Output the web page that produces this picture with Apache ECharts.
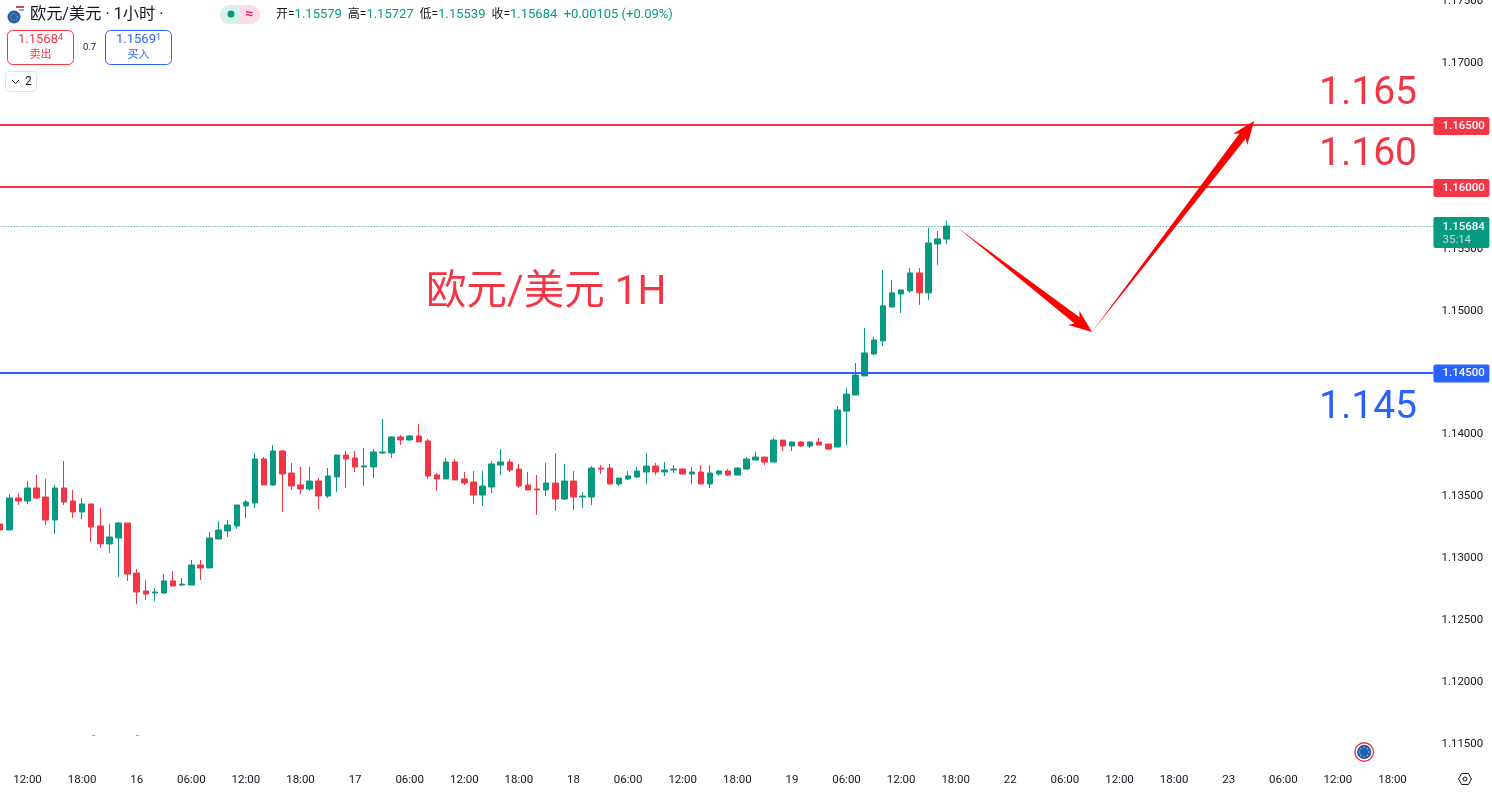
<!DOCTYPE html>
<html><head><meta charset="utf-8">
<style>html,body{margin:0;padding:0;background:#fff}#c{width:1492px;height:793px}</style>
<script src="https://cdn.jsdelivr.net/npm/echarts@6/dist/echarts.min.js"></script>
</head><body><div id="c"></div>
<script>
const tickLabels = ['12:00','18:00','16','06:00','12:00','18:00','17','06:00','12:00','18:00','18','06:00','12:00','18:00','19','06:00','12:00','18:00','22','06:00','12:00','18:00','23','06:00','12:00','18:00'];
const opens = [1.13277,1.13229,1.13487,1.13463,1.13568,1.13495,1.13309,1.13568,1.13463,1.13374,1.13439,1.13261,1.13116,1.13164,1.13285,1.12881,1.12736,1.12720,1.12720,1.12817,1.12784,1.12784,1.12946,1.12922,1.13156,1.13221,1.13261,1.13423,1.13447,1.13802,1.13592,1.13867,1.13689,1.13592,1.13560,1.13624,1.13503,1.13657,1.13834,1.13810,1.13738,1.13738,1.13851,1.13851,1.13980,1.13956,1.13988,1.13948,1.13673,1.13641,1.13778,1.13641,1.13616,1.13511,1.13576,1.13753,1.13778,1.13721,1.13592,1.13560,1.13552,1.13608,1.13479,1.13624,1.13495,1.13495,1.13729,1.13729,1.13600,1.13640,1.13657,1.13697,1.13745,1.13697,1.13713,1.13721,1.13681,1.13697,1.13600,1.13681,1.13705,1.13672,1.13721,1.13794,1.13818,1.13777,1.13955,1.13907,1.13939,1.13907,1.13939,1.13923,1.13899,1.14189,1.14319,1.14473,1.14651,1.14756,1.15030,1.15135,1.15160,1.15305,1.15144,1.15539,1.15579];
const closes = [1.13229,1.13487,1.13463,1.13568,1.13487,1.13309,1.13568,1.13455,1.13374,1.13439,1.13253,1.13116,1.13172,1.13285,1.12873,1.12728,1.12712,1.12728,1.12817,1.12776,1.12792,1.12946,1.12922,1.13164,1.13229,1.13269,1.13431,1.13455,1.13802,1.13592,1.13867,1.13681,1.13584,1.13560,1.13624,1.13503,1.13665,1.13834,1.13802,1.13738,1.13746,1.13859,1.13859,1.13980,1.13956,1.13988,1.13940,1.13665,1.13641,1.13778,1.13633,1.13608,1.13511,1.13584,1.13762,1.13778,1.13713,1.13584,1.13552,1.13552,1.13608,1.13479,1.13624,1.13495,1.13503,1.13729,1.13721,1.13600,1.13648,1.13665,1.13705,1.13745,1.13697,1.13713,1.13721,1.13681,1.13697,1.13600,1.13689,1.13705,1.13672,1.13729,1.13802,1.13818,1.13777,1.13955,1.13907,1.13939,1.13907,1.13939,1.13915,1.13882,1.14198,1.14327,1.14480,1.14659,1.14764,1.15039,1.15144,1.15168,1.15305,1.15144,1.15547,1.15580,1.15684];
const lows = [1.13148,1.13229,1.13431,1.13439,1.13479,1.13269,1.13196,1.13431,1.13326,1.13317,1.13132,1.13083,1.13043,1.12849,1.12817,1.12631,1.12663,1.12655,1.12712,1.12776,1.12776,1.12784,1.12825,1.12922,1.13156,1.13172,1.13237,1.13326,1.13406,1.13592,1.13584,1.13374,1.13552,1.13519,1.13544,1.13398,1.13487,1.13536,1.13568,1.13697,1.13584,1.13649,1.13843,1.13810,1.13915,1.13948,1.13940,1.13641,1.13544,1.13641,1.13633,1.13592,1.13438,1.13422,1.13527,1.13673,1.13697,1.13568,1.13552,1.13350,1.13503,1.13382,1.13471,1.13390,1.13406,1.13430,1.13681,1.13600,1.13584,1.13632,1.13648,1.13600,1.13673,1.13665,1.13689,1.13681,1.13600,1.13600,1.13567,1.13664,1.13664,1.13672,1.13713,1.13794,1.13753,1.13777,1.13866,1.13866,1.13899,1.13891,1.13915,1.13874,1.13899,1.13915,1.14319,1.14473,1.14643,1.14715,1.15030,1.14982,1.15144,1.15047,1.15087,1.15370,1.15539];
const highs = [1.13342,1.13519,1.13528,1.13624,1.13673,1.13641,1.13592,1.13786,1.13552,1.13487,1.13439,1.13406,1.13277,1.13293,1.13285,1.12914,1.12825,1.12760,1.12873,1.12897,1.12841,1.12986,1.12986,1.13212,1.13301,1.13309,1.13431,1.13471,1.13851,1.13818,1.13915,1.13875,1.13770,1.13738,1.13738,1.13649,1.13729,1.13834,1.13867,1.13867,1.13891,1.13883,1.14125,1.13988,1.13996,1.13996,1.14085,1.13964,1.13689,1.13810,1.13802,1.13697,1.13705,1.13705,1.13786,1.13883,1.13802,1.13762,1.13697,1.13673,1.13770,1.13850,1.13762,1.13705,1.13535,1.13745,1.13753,1.13762,1.13648,1.13705,1.13737,1.13850,1.13770,1.13778,1.13753,1.13729,1.13737,1.13753,1.13753,1.13713,1.13721,1.13737,1.13818,1.13858,1.13818,1.13971,1.13955,1.13947,1.13947,1.13947,1.13971,1.13923,1.14230,1.14375,1.14577,1.14861,1.14788,1.15329,1.15249,1.15168,1.15345,1.15345,1.15669,1.15644,1.15727];
const levelValues = [1.165, 1.160, 1.145];
const levelColors = ['#f23645', '#f23645', '#2962ff'];
const lastPrice = 1.15684;
const countdown = '35:14';
const arrowPoints = [[105.25, 1.15668], [119.98, 1.14828], [137.8, 1.16533]];
const up = '#089981', down = '#f23645', ink = '#131722';
const cjk = 'Roboto, "Noto Sans CJK SC", sans-serif';
const categories = [];
for (let i = 0; i < 158; i++) categories.push(i % 6 === 3 ? tickLabels[(i - 3) / 6] : '');
const candles = opens.map((o, i) => [o, closes[i], lows[i], highs[i]]);
const lineLevels = levelValues.map((v, i) => ({
  yAxis: v,
  lineStyle: {color: levelColors[i], width: 2, type: 'solid'},
  label: {show: true, position: 'end', distance: 0, offset: [0, 1], formatter: v.toFixed(5), color: '#fff', fontFamily: cjk, fontSize: 11.5, fontWeight: 500,
    backgroundColor: levelColors[i], padding: [3, 6, 3, 9], borderRadius: 2, width: 41, lineHeight: 12}
}));
lineLevels.push({
  yAxis: lastPrice,
  lineStyle: {color: up, width: 1, type: [1, 2]},
  label: {show: true, position: 'end', distance: 0, offset: [0, 6.5], formatter: '{a|' + lastPrice.toFixed(5) + '}\n{b|' + countdown + '}', backgroundColor: up, padding: [3, 6, 1, 9], borderRadius: 2,
    rich: {a: {color: '#fff', fontFamily: cjk, fontSize: 11.5, fontWeight: 500, lineHeight: 14, width: 41}, b: {color: '#b5e0d6', fontFamily: cjk, fontSize: 11.5, lineHeight: 13, width: 41}}}
});
function arrowShape(a, b) {
  const dx = b[0] - a[0], dy = b[1] - a[1], len = Math.hypot(dx, dy), ux = dx / len, uy = dy / len, nx = -uy, ny = ux;
  const head = 19, hw = 9, sw = 4;
  const bx = b[0] - ux * head, by = b[1] - uy * head;
  const pt = (x, y, n) => [x + nx * n, y + ny * n];
  return [a, pt(bx, by, sw), pt(bx - ux * 4, by - uy * 4, hw), b, pt(bx - ux * 4, by - uy * 4, -hw), pt(bx, by, -sw)];
}
function txt(x, y, text, size, color, extra) {
  return {type: 'text', x, y, z: 50, silent: true, style: Object.assign({text, fontSize: size, fill: color, fontFamily: cjk, verticalAlign: 'middle', align: 'left'}, extra || {})};
}
const euStars = [];
for (let k = 0; k < 8; k++) euStars.push({type: 'circle', z: 53, silent: true, shape: {cx: 1364.2 + 4.6 * Math.cos(k * Math.PI / 4), cy: 752 + 4.6 * Math.sin(k * Math.PI / 4), r: 0.7}, style: {fill: '#f7d23e'}});
const graphics = [
  {type: 'circle', z: 50, silent: true, shape: {cx: 14, cy: 17, r: 6.5}, style: {fill: '#1f5fb8'}},
  {type: 'circle', z: 51, silent: true, shape: {cx: 14, cy: 17, r: 3.4}, style: {fill: 'none', stroke: '#e8c63f', lineWidth: 1, lineDash: [1, 1.2]}},
  {type: 'rect', z: 51, silent: true, shape: {x: 16, y: 6, width: 8, height: 2}, style: {fill: '#d9414e'}},
  {type: 'rect', z: 51, silent: true, shape: {x: 19, y: 9, width: 5, height: 2}, style: {fill: '#8fa6d8'}},
  txt(30, 15, '欧元/美元 · 1小时 ·', 16.2, ink),
  {type: 'rect', z: 50, silent: true, shape: {x: 220, y: 5, width: 20, height: 19, r: [9, 0, 0, 9]}, style: {fill: '#d8f0ea'}},
  {type: 'rect', z: 50, silent: true, shape: {x: 240, y: 5, width: 20, height: 19, r: [0, 9, 9, 0]}, style: {fill: '#fbdde8'}},
  {type: 'circle', z: 51, silent: true, shape: {cx: 231, cy: 14, r: 3.5}, style: {fill: up}},
  txt(249.5, 14, '≈', 14, '#e91e63', {align: 'center', fontWeight: 700}),
  {type: 'text', x: 276, y: 15, z: 50, silent: true, style: {
    text: '{k|开=}{v|1.15579}{k|  高=}{v|1.15727}{k|  低=}{v|1.15539}{k|  收=}{v|1.15684}{v|  +0.00105 (+0.09%)}',
    verticalAlign: 'middle', rich: {k: {fontSize: 12, fill: ink, fontFamily: cjk}, v: {fontSize: 13, fill: up, fontFamily: cjk}}}},
  {type: 'rect', z: 50, silent: true, shape: {x: 7.5, y: 30.5, width: 66, height: 34, r: 5}, style: {fill: '#fff', stroke: '#f23645', lineWidth: 1}},
  {type: 'rect', z: 50, silent: true, shape: {x: 105.5, y: 30.5, width: 66, height: 34, r: 5}, style: {fill: '#fff', stroke: '#2962ff', lineWidth: 1}},
  {type: 'text', x: 40.5, y: 40, z: 51, silent: true, style: {text: '{a|1.1568}{b|4}', align: 'center', verticalAlign: 'middle', rich: {a: {fontSize: 13, fontFamily: cjk, fill: '#f23645'}, b: {fontSize: 9, fontFamily: cjk, fill: '#f23645', verticalAlign: 'top'}}}},
  txt(40.5, 55.5, '卖出', 11, '#f23645', {align: 'center'}),
  {type: 'text', x: 138.5, y: 40, z: 51, silent: true, style: {text: '{a|1.1569}{b|1}', align: 'center', verticalAlign: 'middle', rich: {a: {fontSize: 13, fontFamily: cjk, fill: '#2962ff'}, b: {fontSize: 9, fontFamily: cjk, fill: '#2962ff', verticalAlign: 'top'}}}},
  txt(138.5, 55.5, '买入', 11, '#2962ff', {align: 'center'}),
  txt(89.5, 47.5, '0.7', 9.5, ink, {align: 'center'}),
  {type: 'rect', z: 50, silent: true, shape: {x: 5.5, y: 71.5, width: 31, height: 20, r: 3}, style: {fill: '#fff', stroke: '#e0e3eb', lineWidth: 1}},
  {type: 'polyline', z: 51, silent: true, shape: {points: [[12, 80], [15.5, 83.5], [19, 80]]}, style: {stroke: ink, lineWidth: 1, fill: 'none'}},
  txt(25, 82, '2', 12, ink),
  txt(1417, 94, '1.165', 39, '#f23645', {align: 'right'}),
  txt(1417, 155, '1.160', 39, '#f23645', {align: 'right'}),
  txt(1417, 408, '1.145', 39, '#2962ff', {align: 'right'}),
  txt(426, 294, '欧元/美元 1H', 40.5, '#f23645'),
  {type: 'circle', z: 50, silent: true, shape: {cx: 1364.2, cy: 752, r: 10}, style: {fill: '#f23645'}},
  {type: 'circle', z: 51, silent: true, shape: {cx: 1364.2, cy: 752, r: 8.6}, style: {fill: '#fff'}},
  {type: 'circle', z: 52, silent: true, shape: {cx: 1364.2, cy: 752, r: 7.2}, style: {fill: '#1f5fb8'}},
  ...euStars,
  {type: 'polygon', z: 50, silent: true, shape: {points: [[1458.5, 779], [1461.7, 773.5], [1468.3, 773.5], [1471.5, 779], [1468.3, 784.5], [1461.7, 784.5]]}, style: {fill: 'none', stroke: ink, lineWidth: 1}},
  {type: 'circle', z: 50, silent: true, shape: {cx: 1465, cy: 779, r: 2}, style: {fill: 'none', stroke: ink, lineWidth: 1}},
  {type: 'rect', z: 50, silent: true, shape: {x: 92, y: 735, width: 3, height: 1}, style: {fill: '#9aa0ab'}},
  {type: 'rect', z: 50, silent: true, shape: {x: 136, y: 735, width: 3, height: 1}, style: {fill: '#9aa0ab'}}
];
const chart = echarts.init(document.getElementById('c'), null, {renderer: 'canvas', width: 1492, height: 793});
chart.setOption({
  animation: false,
  backgroundColor: '#ffffff',
  grid: {left: -4.35, width: 1437.8, top: 1.2, height: 804.7, containLabel: false, outerBoundsMode: 'none'},
  xAxis: {type: 'category', data: categories, boundaryGap: true, offset: -36,
    axisLine: {show: false}, axisTick: {show: false}, splitLine: {show: false},
    axisLabel: {interval: 0, hideOverlap: false, margin: 4, color: ink, fontFamily: cjk, fontSize: 11.5}},
  yAxis: {type: 'value', position: 'right', min: 1.11, max: 1.175, interval: 0.005, scale: true,
    axisLine: {show: false}, axisTick: {show: false}, splitLine: {show: false},
    axisLabel: {margin: 8, padding: [3, 0, 0, 0], color: ink, fontFamily: cjk, fontSize: 11.5, formatter: v => v.toFixed(5)}},
  series: [
    {type: 'candlestick', data: candles, barWidth: 6, clip: true,
      itemStyle: {color: up, color0: down, borderColor: up, borderColor0: down, borderWidth: 1},
      markLine: {silent: true, symbol: 'none', animation: false, precision: 5, data: lineLevels, z: 10}},
    {type: 'custom', data: [0, 1], clip: false, silent: true, z: 20,
      renderItem: (params, api) => {
        const at = p => {
          const f = Math.floor(p[0]);
          const c = api.coord([f, p[1]]);
          return [c[0] + (p[0] - f) * api.size([1, 0])[0], c[1]];
        };
        const i = params.dataIndex;
        return {type: 'polygon', shape: {points: arrowShape(at(arrowPoints[i]), at(arrowPoints[i + 1]))}, style: {fill: '#ff0000'}};
      }}
  ],
  graphic: graphics
});
</script></body></html>
